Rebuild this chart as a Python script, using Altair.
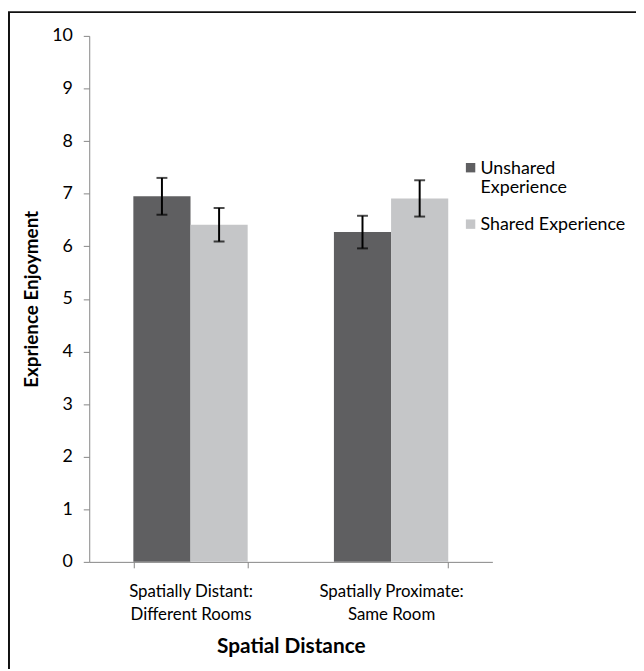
import altair as alt
import pandas as pd

categories = ["Spatially Distant:|Different Rooms", "Spatially Proximate:|Same Room"]
series = ["Unshared Experience", "Shared Experience"]
unshared_means = [6.95, 6.27]
shared_means = [6.41, 6.91]
unshared_err = [0.35, 0.31]
shared_err = [0.32, 0.345]
y_ticks = [0, 1, 2, 3, 4, 5, 6, 7, 8, 9, 10]
colors = ["#5f5f61", "#c5c6c8"]

rows = []
for i, c in enumerate(categories):
    for s, m, e in ((series[0], unshared_means[i], unshared_err[i]),
                    (series[1], shared_means[i], shared_err[i])):
        rows.append({"cond": c, "exp": s, "mean": m, "lo": m - e, "hi": m + e})
df = pd.DataFrame(rows)

FONT = "Lato"
AXC = "#868686"

x_axis = alt.Axis(
    title="Spatial Distance", labelAngle=0, labelExpr="split(datum.label, '|')",
    tickBand="extent", tickSize=6, tickColor=AXC, domainColor=AXC,
    labelFont=FONT, labelFontSize=17, labelColor="black", labelLineHeight=23,
    labelPadding=16, titleFont=FONT, titleFontSize=21, titleFontWeight="bold",
    titleColor="black", titlePadding=13, grid=False,
)
y_axis = alt.Axis(
    title="Exprience Enjoyment", values=y_ticks, tickSize=6, tickColor=AXC,
    domainColor=AXC, labelFont=FONT, labelFontSize=18, labelColor="black",
    labelPadding=11, titleFont=FONT, titleFontSize=19, titleFontWeight="bold",
    titleColor="black", titlePadding=10, grid=False,
)

x = alt.X("cond:N", sort=categories,
          scale=alt.Scale(paddingInner=0.43, paddingOuter=0.22), axis=x_axis)
xo = alt.XOffset("exp:N", sort=series, scale=alt.Scale(paddingInner=0, paddingOuter=0))
yscale = alt.Scale(domain=[0, 10], nice=False)

color = alt.Color(
    "exp:N", sort=series, scale=alt.Scale(domain=series, range=colors),
    legend=alt.Legend(
        title=None, orient="none", legendX=376, legendY=116, padding=0,
        symbolType="M-1,0.7H1V2.7H-1Z", symbolSize=90, symbolStrokeWidth=0,
        labelFont=FONT, labelFontSize=18, labelColor="black",
        labelBaseline="top", labelOffset=1, rowPadding=10,
        labelExpr="datum.label == 'Unshared Experience' ? ['Unshared', 'Experience'] : datum.label",
    ),
)

bars = alt.Chart(df).mark_bar().encode(
    x=x, xOffset=xo,
    y=alt.Y("mean:Q", scale=yscale, axis=y_axis, title="Exprience Enjoyment"),
    color=color,
)
rules = alt.Chart(df).mark_rule(color="black", strokeWidth=2).encode(
    x=x, xOffset=xo,
    y=alt.Y("lo:Q", scale=yscale, axis=y_axis, title="Exprience Enjoyment"),
    y2="hi:Q",
)
cap_hi = alt.Chart(df).mark_tick(color="black", thickness=2, size=11).encode(
    x=x, xOffset=xo,
    y=alt.Y("hi:Q", scale=yscale, axis=y_axis, title="Exprience Enjoyment"),
)
cap_lo = alt.Chart(df).mark_tick(color="black", thickness=2, size=11).encode(
    x=x, xOffset=xo,
    y=alt.Y("lo:Q", scale=yscale, axis=y_axis, title="Exprience Enjoyment"),
)

border_data = alt.Data(values=[{"b": 1}])
left_border = alt.Chart(border_data).mark_rule(color="#111111", strokeWidth=2).encode(
    x=alt.value(-81), y=alt.value(-24), y2=alt.value(660)
)
top_border = alt.Chart(border_data).mark_rule(color="#111111", strokeWidth=2).encode(
    x=alt.value(-82), x2=alt.value(600), y=alt.value(-24)
)

chart = alt.layer(bars, rules, cap_hi, cap_lo, left_border, top_border).properties(
    width=407, height=531,
    padding={"left": 82, "top": 25, "right": 145, "bottom": 105},
    autosize=alt.AutoSizeParams(type="none"),
    background="white",
).configure_view(stroke=None)

chart.save("out.html", embed_options={"renderer": "svg", "actions": False})
